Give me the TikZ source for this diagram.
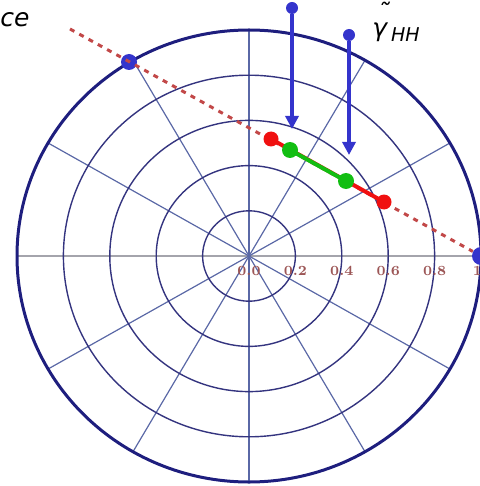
\documentclass[tikz,border=0pt]{standalone}
\usepackage{amsmath}
\usepackage{fontspec}
\newfontfamily\hand{DejaVu Sans}
\usepackage{tikz}
\usetikzlibrary{arrows.meta}
\definecolor{rimblue}{HTML}{1E1E7E}
\definecolor{ringblue}{HTML}{34347F}
\definecolor{spokeblue}{HTML}{5A68A6}
\definecolor{axisgray}{HTML}{A4A4AC}
\definecolor{ticked}{HTML}{9C5656}
\definecolor{dotblue}{HTML}{3434CC}
\definecolor{cutred}{HTML}{C24848}
\definecolor{segred}{HTML}{F01010}
\definecolor{seggreen}{HTML}{12BE12}

\begin{document}
\begin{tikzpicture}[x=0.5pt, y=-0.5pt,
  rim/.style={draw=rimblue, line width=1.5pt},
  ring/.style={draw=ringblue, line width=0.7pt},
  spoke/.style={draw=spokeblue, line width=0.6pt},
  axisline/.style={draw=axisgray, line width=1.4pt},
  tick/.style={font=\bfseries\fontsize{7}{8}\selectfont, text=ticked, inner sep=0pt},
  pdot/.style={circle, fill=#1, inner sep=0pt, minimum size=7.5pt},
  cut/.style={draw=cutred, line width=1.5pt, dash pattern=on 2.5pt off 2.8pt},
  seg/.style={draw=#1, line width=2pt},
  guide/.style={draw=dotblue, line width=2pt, -{Triangle[length=6.5pt,width=6.5pt]}},
  lbl/.style={font=\hand\itshape\fontsize{12.5}{14}\selectfont, inner sep=0pt},
]
\useasboundingbox (0,0) rectangle (480,486);

% --- polar grid ---
\begin{scope}[shift={(249,256)}, xscale=232, yscale=-226]
  \draw[axisline] (-1,0) -- (1,0);
  \foreach \a in {30,60,...,150} \draw[spoke] (\a:1) -- (\a+180:1);
  \foreach \r in {0.2,0.4,0.6,0.8} \draw[ring] (0,0) circle (\r);
  \draw[rim] (0,0) circle (1);
  \foreach \x/\t [count=\i] in {0/0.0,0.2/0.2,0.4/0.4,0.6/0.6,0.8/0.8,0.985/1}
    \node[tick] (lab\i) at (\x,-0.068) {\t};
\end{scope}

% --- coherence line ---
\node[pdot=dotblue, minimum size=8pt] (b1) at (129,62) {};
\node[pdot=dotblue, minimum size=9pt] (b2) at (481,256) {};
\coordinate (c0) at (70,29);
\draw[cut] (c0) -- (b2);

% --- region on the line ---
\coordinate (r1) at (271,139);
\coordinate (r2) at (384,202);
\coordinate (g1) at (290,150);
\coordinate (g2) at (346,181);
\draw[seg=segred] (r1) -- (r2);
\draw[seg=seggreen] (g1) -- (g2);
\node[pdot=segred] (rd1) at (r1) {};
\node[pdot=segred] (rd2) at (r2) {};
\node[pdot=seggreen, minimum size=8pt] (gd1) at (g1) {};
\node[pdot=seggreen, minimum size=8pt] (gd2) at (g2) {};

% --- arrows ---
\node[pdot=dotblue, minimum size=6pt] (a1) at (292,8) {};
\node[pdot=dotblue, minimum size=6pt] (a2) at (349,35) {};
\coordinate (a1tip) at (292,129);
\coordinate (a2tip) at (349,155);
\draw[guide] (a1) -- (a1tip);
\draw[guide] (a2) -- (a2tip);

\node[lbl, anchor=west] (ttl) at (0,20) {ce};
\node[lbl, anchor=base west] (gam) at (372,37)
  {\rlap{\kern2.5pt\raisebox{7.5pt}{\char"02DC}}γ\kern2pt\raisebox{-2.5pt}{\fontsize{9.5}{10}\selectfont HH}};
\end{tikzpicture}
\end{document}
